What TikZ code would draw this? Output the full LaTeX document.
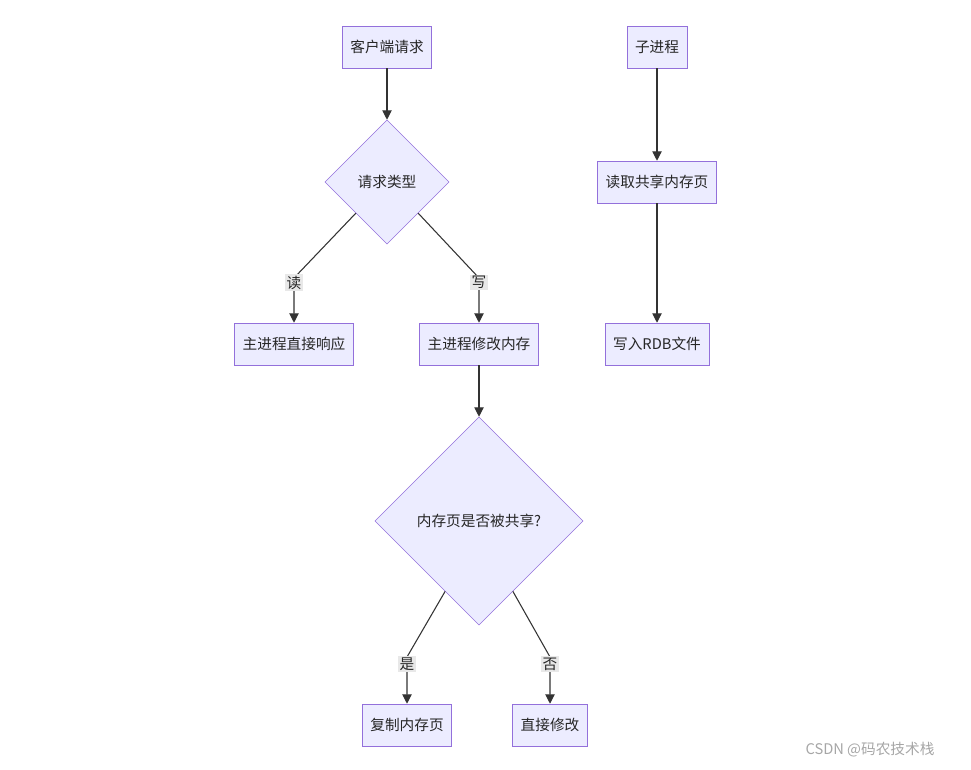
\documentclass[tikz,border=0pt]{standalone}
\usepackage{fontspec}
\setmainfont{Noto Sans CJK SC}
\usetikzlibrary{positioning,shapes.geometric,arrows.meta,calc}
\definecolor{boxfill}{HTML}{ECECFF}
\definecolor{boxline}{HTML}{9370DB}
\definecolor{arrowc}{HTML}{333333}
\definecolor{labfill}{HTML}{E8E8E8}

\begin{document}
\begin{tikzpicture}[
        x=0.75pt, y=-0.75pt,
        every node/.style={font=\fontsize{11}{13}\selectfont, text=black!85},
        procbox/.style={
                rectangle,
                draw=boxline,
                fill=boxfill,
                minimum height=31.5pt,
                inner xsep=6pt
            },
        decision/.style={
                diamond,
                draw=boxline,
                fill=boxfill,
                shape aspect=1,
                inner sep=0pt
            },
        edgelabel/.style={
                fill=labfill,
                inner sep=1pt
            },
        flow/.style={
                draw=arrowc,
                thick,
                -{Triangle[length=7pt,width=7pt]}
            }
    ]
    \useasboundingbox (0,0) rectangle (971,770);

    \node[procbox] (Client) at (387,47) {客户端请求};
    \node[decision, minimum size=93pt] (ReqType) at (387,182) {请求类型};
    \node[procbox] (Direct) at (294,344) {主进程直接响应};
    \node[procbox] (Modify) at (479,344) {主进程修改内存};
    \node[decision, minimum size=156pt] (Shared) at (479,521) {内存页是否被共享?};
    \node[procbox] (Copy) at (407,725) {复制内存页};
    \node[procbox] (Change) at (550,725) {直接修改};

    \node[procbox] (Child) at (657,47) {子进程};
    \node[procbox] (ReadPage) at (657,182) {读取共享内存页};
    \node[procbox] (WriteRDB) at (657,344) {写入RDB文件};

    \coordinate (readBend) at (294,278);
    \coordinate (writeBend) at (479,278);
    \coordinate (yesBend) at (407,657);
    \coordinate (noBend) at (550,657);
    \coordinate (sharedL) at ($(Shared.south west)!0.35!(Shared.south)$);
    \coordinate (sharedR) at ($(Shared.south east)!0.35!(Shared.south)$);

    \draw[flow] (Client) -- (ReqType);
    \draw[flow] (ReqType.south west) -- (readBend) -- node[edgelabel, pos=0.1] {读} (Direct);
    \draw[flow] (ReqType.south east) -- (writeBend) -- node[edgelabel, pos=0.1] {写} (Modify);
    \draw[flow] (Modify) -- (Shared);
    \draw[flow] (sharedL) -- (yesBend) -- node[edgelabel, pos=0.15] {是} (Copy);
    \draw[flow] (sharedR) -- (noBend) -- node[edgelabel, pos=0.15] {否} (Change);
    \draw[flow] (Child) -- (ReadPage);
    \draw[flow] (ReadPage) -- (WriteRDB);

    \node[text=black!35, font=\fontsize{11}{13}\selectfont] (Mark) at (870,750) {CSDN @码农技术栈};
\end{tikzpicture}
\end{document}
